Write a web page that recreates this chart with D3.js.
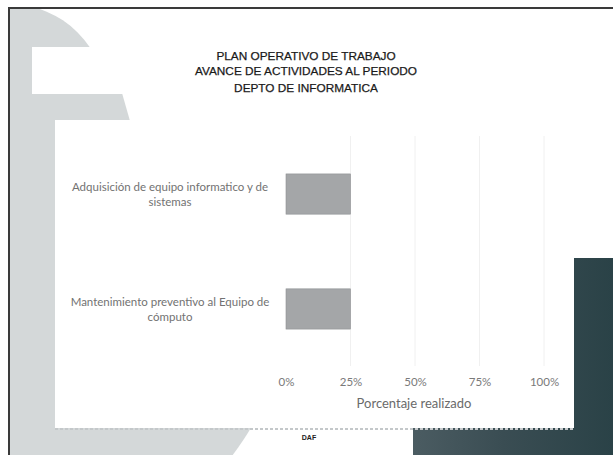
<!DOCTYPE html>
<html>
<head>
<meta charset="utf-8">
<script src="https://cdn.jsdelivr.net/npm/d3@7/dist/d3.min.js"></script>
<style>
	html, body { margin: 0; padding: 0; background: #fff; }
	svg { display: block; }
</style>
</head>
<body>
<div id="chart"></div>
<script>
// chart data
const titleLines = ['PLAN OPERATIVO DE TRABAJO', 'AVANCE DE ACTIVIDADES AL PERIODO', 'DEPTO DE INFORMATICA']
const categories = [
	['Adquisición de equipo informatico y de', 'sistemas'],
	['Mantenimiento preventivo al Equipo de', 'cómputo'],
]
const values = [25, 25]
const tickValues = [0, 25, 50, 75, 100]
const axisTitle = 'Porcentaje realizado'
const footer = 'DAF'

const width = 613
const height = 455
const grey = '#d4d8d9'

const svg = d3.select('#chart').append('svg')
	.attr('width', width)
	.attr('height', height)

const defs = svg.append('defs')
defs.append('clipPath').attr('id', 'page')
	.append('rect').attr('x', 10).attr('y', 9).attr('width', width - 10).attr('height', height - 9)

const dark = defs.append('linearGradient').attr('id', 'dark')
dark.append('stop').attr('offset', '0%').attr('stop-color', '#4b5c62')
dark.append('stop').attr('offset', '45%').attr('stop-color', '#3a4d53')
dark.append('stop').attr('offset', '100%').attr('stop-color', '#2a4247')

// background decoration of the slide
const bg = svg.append('g').attr('clip-path', 'url(#page)')
bg.append('circle')
	.attr('cx', 9).attr('cy', 101).attr('r', 97)
	.attr('fill', grey)
bg.append('rect')
	.attr('x', 10).attr('y', 94).attr('width', 45).attr('height', height)
	.attr('fill', grey)
bg.append('path')
	.attr('d', 'M10,93 L122,93 L130,121 L10,121 Z')
	.attr('fill', grey)
bg.append('path')
	.attr('d', 'M10,426 L252,426 Q244,440 232,456 L10,456 Z')
	.attr('fill', grey)
bg.append('rect')
	.attr('x', 32).attr('y', 47).attr('width', 300).attr('height', 47)
	.attr('fill', '#fff')
bg.append('rect')
	.attr('x', 413).attr('y', 258).attr('width', 200).attr('height', 197)
	.attr('fill', 'url(#dark)')

// white plot box
svg.append('rect')
	.attr('x', 55).attr('y', 120).attr('width', 519).attr('height', 308)
	.attr('fill', '#fff')
svg.append('line')
	.attr('x1', 55).attr('x2', 574).attr('y1', 429).attr('y2', 429)
	.attr('stroke', '#c4c8ca').attr('stroke-width', 2).attr('stroke-dasharray', '3,2')

// frame
svg.append('path')
	.attr('d', `M9,${height} V8 H${width}`)
	.attr('fill', 'none')
	.attr('stroke', '#3a3a3a')
	.attr('stroke-width', 2)

// title
svg.append('g').selectAll('text')
	.data(titleLines)
	.join('text')
		.attr('x', 306)
		.attr('y', (d, i) => [60, 75, 92][i])
		.attr('text-anchor', 'middle')
		.style('font-family', 'Liberation Sans, Arial, sans-serif')
		.style('font-size', '11.8px')
		.attr('stroke', '#1a1a1a')
		.attr('stroke-width', 0.25)
		.attr('fill', '#1a1a1a')
		.text(d => d)

// scales
const x = d3.scaleLinear().domain([0, 100]).range([286, 544])
const y = d3.scaleBand()
	.domain(d3.range(categories.length))
	.range([136, 367])
	.paddingInner(0.65)
	.paddingOuter(0.33)

// gridlines
svg.append('g').selectAll('line')
	.data(tickValues.slice(1))
	.join('line')
		.attr('x1', d => x(d)).attr('x2', d => x(d))
		.attr('y1', 136).attr('y2', 366)
		.attr('stroke', '#f0f0f0')
		.attr('stroke-width', 1)

// bars
svg.append('g').selectAll('rect')
	.data(values)
	.join('rect')
		.attr('x', x(0))
		.attr('y', (d, i) => y(i))
		.attr('width', d => x(d) - x(0))
		.attr('height', y.bandwidth())
		.attr('fill', '#a4a6a8')
		.attr('stroke', '#8e9092')
		.attr('stroke-width', 0.6)

// category labels
const labels = svg.append('g').selectAll('text')
	.data(categories)
	.join('text')
		.attr('text-anchor', 'middle')
		.style('font-family', 'Lato, sans-serif')
		.style('font-size', '11.5px')
		.attr('fill', '#727272')

labels.selectAll('tspan')
	.data((d, i) => d.map(t => ({ t, i })))
	.join('tspan')
		.attr('x', 170)
		.attr('y', (d, j) => y(d.i) + y.bandwidth() / 2 - 3 + j * 15)
		.text(d => d.t)

// x axis (no line, labels only)
const xAxis = d3.axisBottom(x)
	.tickValues(tickValues)
	.tickSize(0)
	.tickPadding(0)
	.tickFormat(d => `${d}%`)

const axisG = svg.append('g')
	.attr('transform', 'translate(0,378)')
	.call(xAxis)
axisG.select('.domain').remove()
axisG.selectAll('text')
	.style('font-family', 'Lato, sans-serif')
	.style('font-size', '11.5px')
	.attr('fill', '#7a7a7a')

svg.append('text')
	.attr('x', 414)
	.attr('y', 408)
	.attr('text-anchor', 'middle')
	.style('font-family', 'Lato, sans-serif')
	.style('font-size', '13px')
	.attr('fill', '#6a6a6a')
	.text(axisTitle)

svg.append('text')
	.attr('x', 309)
	.attr('y', 440)
	.attr('text-anchor', 'middle')
	.style('font-family', 'Liberation Sans, Arial, sans-serif')
	.style('font-size', '7px')
	.style('font-weight', 'bold')
	.attr('fill', '#222')
	.text(footer)
</script>
</body>
</html>
